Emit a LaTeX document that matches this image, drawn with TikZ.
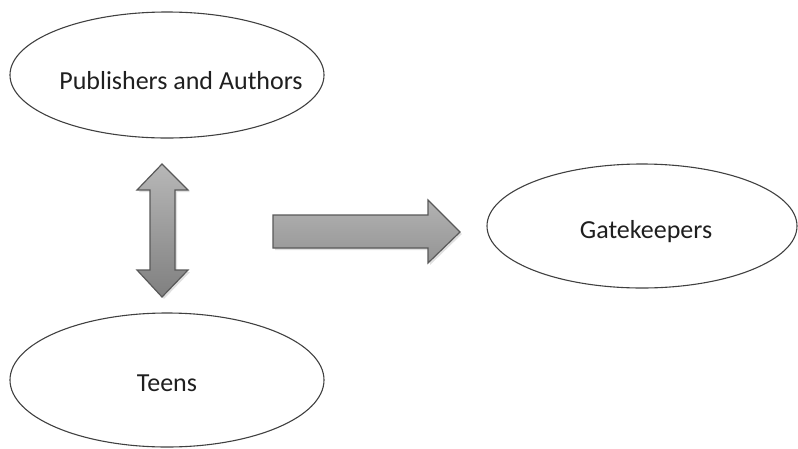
\documentclass[tikz,border=0pt]{standalone}
\usepackage{fontspec}
\setmainfont{Carlito}
\begin{document}
\begin{tikzpicture}[x=1pt,y=-1pt,
  bubble/.style={draw=black!75, line width=1.1pt},
  label/.style={font=\fontsize{26}{31}\selectfont, text=black!88},
  blockarrow/.style={draw=black!65, line width=1.2pt, line join=miter,
    top color=black!28, bottom color=black!50},
  shadowarrow/.style={fill=black!12, draw=none}
]
\useasboundingbox (0,0) rectangle (798,448);

% the three ellipses
\draw[bubble] (167,75) ellipse [x radius=157, y radius=63];
\draw[bubble] (167,380) ellipse [x radius=157, y radius=67];
\draw[bubble] (642,226) ellipse [x radius=155, y radius=62];

\node[label] (pub) at (181,81) {Publishers and Authors};
\node[label] (teens) at (167,383) {Teens};
\node[label] (gate) at (646,232) {Gatekeepers};

% double arrow between publishers and teens
\fill[shadowarrow, shift={(2,2)}] (162,164) -- (188,190) -- (175,190) -- (175,270) -- (188,270)
  -- (162,297) -- (137,270) -- (150,270) -- (150,190) -- (137,190) -- cycle;
\draw[blockarrow] (162,164) -- (188,190) -- (175,190) -- (175,270) -- (188,270)
  -- (162,297) -- (137,270) -- (150,270) -- (150,190) -- (137,190) -- cycle;

% arrow towards gatekeepers
\fill[shadowarrow, shift={(2,2)}] (273,215) -- (428,215) -- (428,200) -- (460,232)
  -- (428,263) -- (428,248) -- (273,248) -- cycle;
\draw[blockarrow, top color=black!30, bottom color=black!42] (273,215) -- (428,215) -- (428,200) -- (460,232)
  -- (428,263) -- (428,248) -- (273,248) -- cycle;
\end{tikzpicture}
\end{document}
